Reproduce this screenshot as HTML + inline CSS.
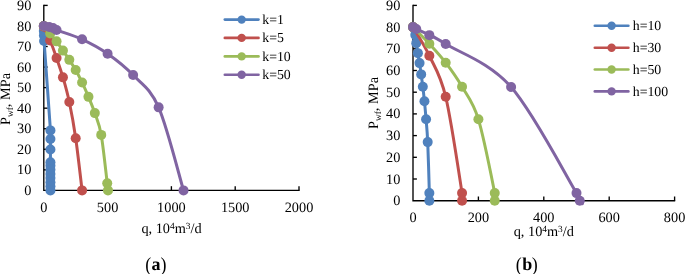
<!DOCTYPE html>
<html><head><meta charset="utf-8"><title>IPR curves</title>
<style>
html,body{margin:0;padding:0;background:#fff;}
body{width:685px;height:274px;overflow:hidden;}
svg{display:block;text-rendering:geometricPrecision;font-family:"Liberation Serif","Times New Roman",serif;fill:#000;}
</style></head><body>
<svg width="685" height="274" viewBox="0 0 685 274">
<rect width="685" height="274" fill="#fff"/>
<path d="M43.80,4.80 V190.40 H299.60" fill="none" stroke="#000" stroke-width="1.35"/>
<text x="31.40" y="194.95" text-anchor="end" font-size="14.3">0</text>
<path d="M43.80,169.84 h3.9" stroke="#000" stroke-width="1.35"/>
<text x="31.40" y="174.39" text-anchor="end" font-size="14.3">10</text>
<path d="M43.80,149.29 h3.9" stroke="#000" stroke-width="1.35"/>
<text x="31.40" y="153.84" text-anchor="end" font-size="14.3">20</text>
<path d="M43.80,128.73 h3.9" stroke="#000" stroke-width="1.35"/>
<text x="31.40" y="133.28" text-anchor="end" font-size="14.3">30</text>
<path d="M43.80,108.18 h3.9" stroke="#000" stroke-width="1.35"/>
<text x="31.40" y="112.73" text-anchor="end" font-size="14.3">40</text>
<path d="M43.80,87.62 h3.9" stroke="#000" stroke-width="1.35"/>
<text x="31.40" y="92.17" text-anchor="end" font-size="14.3">50</text>
<path d="M43.80,67.07 h3.9" stroke="#000" stroke-width="1.35"/>
<text x="31.40" y="71.62" text-anchor="end" font-size="14.3">60</text>
<path d="M43.80,46.51 h3.9" stroke="#000" stroke-width="1.35"/>
<text x="31.40" y="51.06" text-anchor="end" font-size="14.3">70</text>
<path d="M43.80,25.96 h3.9" stroke="#000" stroke-width="1.35"/>
<text x="31.40" y="30.51" text-anchor="end" font-size="14.3">80</text>
<path d="M43.80,5.40 h3.9" stroke="#000" stroke-width="1.35"/>
<text x="31.40" y="9.95" text-anchor="end" font-size="14.3">90</text>
<text x="43.80" y="211.50" text-anchor="middle" font-size="14.3">0</text>
<path d="M107.60,190.40 v-4.2" stroke="#000" stroke-width="1.35"/>
<text x="107.60" y="211.50" text-anchor="middle" font-size="14.3">500</text>
<path d="M171.40,190.40 v-4.2" stroke="#000" stroke-width="1.35"/>
<text x="171.40" y="211.50" text-anchor="middle" font-size="14.3">1000</text>
<path d="M235.20,190.40 v-4.2" stroke="#000" stroke-width="1.35"/>
<text x="235.20" y="211.50" text-anchor="middle" font-size="14.3">1500</text>
<path d="M299.00,190.40 v-4.2" stroke="#000" stroke-width="1.35"/>
<text x="299.00" y="211.50" text-anchor="middle" font-size="14.3">2000</text>
<text x="171.50" y="233.20" text-anchor="middle" font-size="14.3">q, 10<tspan font-size="9.4" dy="-4.3">4</tspan><tspan dy="4.3">m</tspan><tspan font-size="9.4" dy="-4.3">3</tspan><tspan dy="4.3">/d</tspan></text>
<text transform="translate(10.00,99.00) rotate(-90)" text-anchor="middle" font-size="14.3">P<tspan font-size="9.4" dy="2.6">wf</tspan><tspan dy="-2.6">, MPa</tspan></text>
<path d="M43.80,25.96 C43.80,26.81 43.78,29.52 43.80,31.09 C43.82,32.67 43.89,33.77 43.93,35.41 C43.97,37.06 42.97,25.13 44.06,40.96 C45.14,56.79 49.37,114.04 50.44,130.38 C51.50,146.72 50.44,135.83 50.44,139.01 C50.44,142.20 50.44,145.62 50.44,149.49 C50.44,153.37 50.44,159.53 50.44,162.24 C50.44,164.95 50.44,164.47 50.44,165.73 C50.44,167.00 50.44,168.47 50.44,169.84 C50.44,171.21 50.44,172.59 50.44,173.96 C50.44,175.33 50.44,176.70 50.44,178.07 C50.44,179.44 50.44,180.81 50.44,182.18 C50.44,183.55 50.44,184.92 50.44,186.29 C50.44,187.66 50.44,189.71 50.44,190.40" fill="none" stroke="#4F81BD" stroke-width="3.00" stroke-linejoin="round" stroke-linecap="round"/>
<circle cx="43.80" cy="25.96" r="5.00" fill="#4F81BD"/>
<circle cx="43.80" cy="31.09" r="5.00" fill="#4F81BD"/>
<circle cx="43.93" cy="35.41" r="5.00" fill="#4F81BD"/>
<circle cx="44.06" cy="40.96" r="5.00" fill="#4F81BD"/>
<circle cx="50.44" cy="130.38" r="5.00" fill="#4F81BD"/>
<circle cx="50.44" cy="139.01" r="5.00" fill="#4F81BD"/>
<circle cx="50.44" cy="149.49" r="5.00" fill="#4F81BD"/>
<circle cx="50.44" cy="162.24" r="5.00" fill="#4F81BD"/>
<circle cx="50.44" cy="165.73" r="5.00" fill="#4F81BD"/>
<circle cx="50.44" cy="169.84" r="5.00" fill="#4F81BD"/>
<circle cx="50.44" cy="173.96" r="5.00" fill="#4F81BD"/>
<circle cx="50.44" cy="178.07" r="5.00" fill="#4F81BD"/>
<circle cx="50.44" cy="182.18" r="5.00" fill="#4F81BD"/>
<circle cx="50.44" cy="186.29" r="5.00" fill="#4F81BD"/>
<circle cx="50.44" cy="190.40" r="5.00" fill="#4F81BD"/>
<path d="M43.80,25.96 C43.82,26.09 42.86,24.35 43.93,26.78 C44.99,29.21 48.07,35.34 50.18,40.55 C52.29,45.76 54.43,51.89 56.56,58.02 C58.69,64.15 60.81,70.01 62.94,77.34 C65.07,84.68 67.19,91.87 69.32,102.01 C71.45,112.15 73.57,123.46 75.70,138.19 C77.83,152.92 81.02,181.70 82.08,190.40" fill="none" stroke="#C0504D" stroke-width="3.00" stroke-linejoin="round" stroke-linecap="round"/>
<circle cx="43.80" cy="25.96" r="5.00" fill="#C0504D"/>
<circle cx="43.93" cy="26.78" r="5.00" fill="#C0504D"/>
<circle cx="50.18" cy="40.55" r="5.00" fill="#C0504D"/>
<circle cx="56.56" cy="58.02" r="5.00" fill="#C0504D"/>
<circle cx="62.94" cy="77.34" r="5.00" fill="#C0504D"/>
<circle cx="69.32" cy="102.01" r="5.00" fill="#C0504D"/>
<circle cx="75.70" cy="138.19" r="5.00" fill="#C0504D"/>
<circle cx="82.08" cy="190.40" r="5.00" fill="#C0504D"/>
<path d="M43.80,25.96 C44.86,27.22 48.05,30.99 50.18,33.56 C52.31,36.13 54.43,38.53 56.56,41.37 C58.69,44.22 60.81,47.54 62.94,50.62 C65.07,53.71 67.19,56.65 69.32,59.87 C71.45,63.09 73.57,66.18 75.70,69.94 C77.83,73.71 79.95,78.00 82.08,82.48 C84.21,86.97 86.33,91.77 88.46,96.87 C90.59,101.98 92.71,106.77 94.84,113.11 C96.97,119.45 99.16,123.22 101.22,134.90 C103.28,146.58 106.09,173.96 107.22,183.21 C108.34,192.46 107.86,189.20 107.98,190.40" fill="none" stroke="#9BBB59" stroke-width="3.00" stroke-linejoin="round" stroke-linecap="round"/>
<circle cx="43.80" cy="25.96" r="5.00" fill="#9BBB59"/>
<circle cx="50.18" cy="33.56" r="5.00" fill="#9BBB59"/>
<circle cx="56.56" cy="41.37" r="5.00" fill="#9BBB59"/>
<circle cx="62.94" cy="50.62" r="5.00" fill="#9BBB59"/>
<circle cx="69.32" cy="59.87" r="5.00" fill="#9BBB59"/>
<circle cx="75.70" cy="69.94" r="5.00" fill="#9BBB59"/>
<circle cx="82.08" cy="82.48" r="5.00" fill="#9BBB59"/>
<circle cx="88.46" cy="96.87" r="5.00" fill="#9BBB59"/>
<circle cx="94.84" cy="113.11" r="5.00" fill="#9BBB59"/>
<circle cx="101.22" cy="134.90" r="5.00" fill="#9BBB59"/>
<circle cx="107.22" cy="183.21" r="5.00" fill="#9BBB59"/>
<circle cx="107.98" cy="190.40" r="5.00" fill="#9BBB59"/>
<path d="M43.80,25.96 C44.69,26.13 47.63,26.64 49.16,26.98 C50.69,27.33 51.75,27.50 52.99,28.01 C54.22,28.53 51.71,28.18 56.56,30.07 C61.41,31.95 73.57,35.38 82.08,39.32 C90.59,43.26 99.09,47.74 107.60,53.71 C116.11,59.67 124.61,66.14 133.12,75.08 C141.63,84.03 150.24,88.14 158.64,107.36 C167.04,126.58 179.38,176.56 183.52,190.40" fill="none" stroke="#8064A2" stroke-width="3.00" stroke-linejoin="round" stroke-linecap="round"/>
<circle cx="43.80" cy="25.96" r="5.00" fill="#8064A2"/>
<circle cx="49.16" cy="26.98" r="5.00" fill="#8064A2"/>
<circle cx="52.99" cy="28.01" r="5.00" fill="#8064A2"/>
<circle cx="56.56" cy="30.07" r="5.00" fill="#8064A2"/>
<circle cx="82.08" cy="39.32" r="5.00" fill="#8064A2"/>
<circle cx="107.60" cy="53.71" r="5.00" fill="#8064A2"/>
<circle cx="133.12" cy="75.08" r="5.00" fill="#8064A2"/>
<circle cx="158.64" cy="107.36" r="5.00" fill="#8064A2"/>
<circle cx="183.52" cy="190.40" r="5.00" fill="#8064A2"/>
<path d="M224.80,19.60 H258.50" stroke="#4F81BD" stroke-width="2.6" stroke-linecap="round"/>
<circle cx="241.65" cy="19.60" r="4.2" fill="#4F81BD"/>
<text x="262.30" y="24.00" font-size="13.8">k=1</text>
<path d="M224.80,37.90 H258.50" stroke="#C0504D" stroke-width="2.6" stroke-linecap="round"/>
<circle cx="241.65" cy="37.90" r="4.2" fill="#C0504D"/>
<text x="262.30" y="42.30" font-size="13.8">k=5</text>
<path d="M224.80,56.40 H258.50" stroke="#9BBB59" stroke-width="2.6" stroke-linecap="round"/>
<circle cx="241.65" cy="56.40" r="4.2" fill="#9BBB59"/>
<text x="262.30" y="60.80" font-size="13.8">k=10</text>
<path d="M224.80,74.70 H258.50" stroke="#8064A2" stroke-width="2.6" stroke-linecap="round"/>
<circle cx="241.65" cy="74.70" r="4.2" fill="#8064A2"/>
<text x="262.30" y="79.10" font-size="13.8">k=50</text>
<text transform="translate(145.30,271.10) scale(1,1.1)" font-size="18">(</text>
<text x="151.40" y="269.90" font-size="18" font-weight="bold">a</text>
<text transform="translate(160.50,271.10) scale(1,1.1)" font-size="18">)</text>
<path d="M413.00,4.80 V200.70 H675.20" fill="none" stroke="#000" stroke-width="1.35"/>
<text x="400.40" y="205.25" text-anchor="end" font-size="14.3">0</text>
<path d="M413.00,179.00 h3.9" stroke="#000" stroke-width="1.35"/>
<text x="400.40" y="183.55" text-anchor="end" font-size="14.3">10</text>
<path d="M413.00,157.30 h3.9" stroke="#000" stroke-width="1.35"/>
<text x="400.40" y="161.85" text-anchor="end" font-size="14.3">20</text>
<path d="M413.00,135.60 h3.9" stroke="#000" stroke-width="1.35"/>
<text x="400.40" y="140.15" text-anchor="end" font-size="14.3">30</text>
<path d="M413.00,113.90 h3.9" stroke="#000" stroke-width="1.35"/>
<text x="400.40" y="118.45" text-anchor="end" font-size="14.3">40</text>
<path d="M413.00,92.20 h3.9" stroke="#000" stroke-width="1.35"/>
<text x="400.40" y="96.75" text-anchor="end" font-size="14.3">50</text>
<path d="M413.00,70.50 h3.9" stroke="#000" stroke-width="1.35"/>
<text x="400.40" y="75.05" text-anchor="end" font-size="14.3">60</text>
<path d="M413.00,48.80 h3.9" stroke="#000" stroke-width="1.35"/>
<text x="400.40" y="53.35" text-anchor="end" font-size="14.3">70</text>
<path d="M413.00,27.10 h3.9" stroke="#000" stroke-width="1.35"/>
<text x="400.40" y="31.65" text-anchor="end" font-size="14.3">80</text>
<path d="M413.00,5.40 h3.9" stroke="#000" stroke-width="1.35"/>
<text x="400.40" y="9.95" text-anchor="end" font-size="14.3">90</text>
<text x="413.00" y="221.70" text-anchor="middle" font-size="14.3">0</text>
<path d="M478.40,200.70 v-4.2" stroke="#000" stroke-width="1.35"/>
<text x="478.40" y="221.70" text-anchor="middle" font-size="14.3">200</text>
<path d="M543.80,200.70 v-4.2" stroke="#000" stroke-width="1.35"/>
<text x="543.80" y="221.70" text-anchor="middle" font-size="14.3">400</text>
<path d="M609.20,200.70 v-4.2" stroke="#000" stroke-width="1.35"/>
<text x="609.20" y="221.70" text-anchor="middle" font-size="14.3">600</text>
<path d="M674.60,200.70 v-4.2" stroke="#000" stroke-width="1.35"/>
<text x="674.60" y="221.70" text-anchor="middle" font-size="14.3">800</text>
<text x="543.80" y="236.10" text-anchor="middle" font-size="14.3">q, 10<tspan font-size="9.4" dy="-4.3">4</tspan><tspan dy="4.3">m</tspan><tspan font-size="9.4" dy="-4.3">3</tspan><tspan dy="4.3">/d</tspan></text>
<text transform="translate(378.30,103.00) rotate(-90)" text-anchor="middle" font-size="14.3">P<tspan font-size="9.4" dy="2.6">wf</tspan><tspan dy="-2.6">, MPa</tspan></text>
<path d="M413.00,27.10 C413.38,28.40 414.74,32.24 415.29,34.91 C415.83,37.59 415.83,40.12 416.27,43.16 C416.71,46.20 417.36,49.81 417.90,53.14 C418.45,56.47 419.00,59.58 419.54,63.12 C420.09,66.67 420.63,70.46 421.18,74.41 C421.72,78.35 422.26,82.29 422.81,86.77 C423.36,91.26 423.90,95.89 424.44,101.31 C424.99,106.74 425.53,112.53 426.08,119.32 C426.62,126.12 427.17,129.81 427.71,142.11 C428.26,154.41 429.08,183.34 429.35,193.10 C429.62,202.87 429.35,199.43 429.35,200.70" fill="none" stroke="#4F81BD" stroke-width="3.00" stroke-linejoin="round" stroke-linecap="round"/>
<circle cx="413.00" cy="27.10" r="5.00" fill="#4F81BD"/>
<circle cx="415.29" cy="34.91" r="5.00" fill="#4F81BD"/>
<circle cx="416.27" cy="43.16" r="5.00" fill="#4F81BD"/>
<circle cx="417.90" cy="53.14" r="5.00" fill="#4F81BD"/>
<circle cx="419.54" cy="63.12" r="5.00" fill="#4F81BD"/>
<circle cx="421.18" cy="74.41" r="5.00" fill="#4F81BD"/>
<circle cx="422.81" cy="86.77" r="5.00" fill="#4F81BD"/>
<circle cx="424.44" cy="101.31" r="5.00" fill="#4F81BD"/>
<circle cx="426.08" cy="119.32" r="5.00" fill="#4F81BD"/>
<circle cx="427.71" cy="142.11" r="5.00" fill="#4F81BD"/>
<circle cx="429.35" cy="193.10" r="5.00" fill="#4F81BD"/>
<circle cx="429.35" cy="200.70" r="5.00" fill="#4F81BD"/>
<path d="M413.00,27.10 C415.73,31.87 423.90,44.13 429.35,55.74 C434.80,67.35 440.25,73.86 445.70,96.76 C451.15,119.65 459.32,175.78 462.05,193.10 C464.78,210.43 462.05,199.43 462.05,200.70" fill="none" stroke="#C0504D" stroke-width="3.00" stroke-linejoin="round" stroke-linecap="round"/>
<circle cx="413.00" cy="27.10" r="5.00" fill="#C0504D"/>
<circle cx="429.35" cy="55.74" r="5.00" fill="#C0504D"/>
<circle cx="445.70" cy="96.76" r="5.00" fill="#C0504D"/>
<circle cx="462.05" cy="193.10" r="5.00" fill="#C0504D"/>
<circle cx="462.05" cy="200.70" r="5.00" fill="#C0504D"/>
<path d="M413.00,27.10 C415.73,29.88 423.90,37.88 429.35,43.81 C434.80,49.74 440.25,55.53 445.70,62.69 C451.15,69.85 456.60,77.34 462.05,86.77 C467.50,96.21 472.95,101.60 478.40,119.32 C483.85,137.05 492.02,179.54 494.75,193.10 C497.48,206.67 494.75,199.43 494.75,200.70" fill="none" stroke="#9BBB59" stroke-width="3.00" stroke-linejoin="round" stroke-linecap="round"/>
<circle cx="413.00" cy="27.10" r="5.00" fill="#9BBB59"/>
<circle cx="429.35" cy="43.81" r="5.00" fill="#9BBB59"/>
<circle cx="445.70" cy="62.69" r="5.00" fill="#9BBB59"/>
<circle cx="462.05" cy="86.77" r="5.00" fill="#9BBB59"/>
<circle cx="478.40" cy="119.32" r="5.00" fill="#9BBB59"/>
<circle cx="494.75" cy="193.10" r="5.00" fill="#9BBB59"/>
<circle cx="494.75" cy="200.70" r="5.00" fill="#9BBB59"/>
<path d="M413.00,27.10 C413.55,27.43 413.54,27.71 416.27,29.05 C419.00,30.39 424.45,32.63 429.35,35.13 C434.25,37.62 432.07,35.38 445.70,44.03 C459.32,52.67 489.30,62.15 511.10,86.99 C532.90,111.84 565.06,174.15 576.50,193.10 C587.94,212.06 579.23,199.43 579.77,200.70" fill="none" stroke="#8064A2" stroke-width="3.00" stroke-linejoin="round" stroke-linecap="round"/>
<circle cx="413.00" cy="27.10" r="5.00" fill="#8064A2"/>
<circle cx="416.27" cy="29.05" r="5.00" fill="#8064A2"/>
<circle cx="429.35" cy="35.13" r="5.00" fill="#8064A2"/>
<circle cx="445.70" cy="44.03" r="5.00" fill="#8064A2"/>
<circle cx="511.10" cy="86.99" r="5.00" fill="#8064A2"/>
<circle cx="576.50" cy="193.10" r="5.00" fill="#8064A2"/>
<circle cx="579.77" cy="200.70" r="5.00" fill="#8064A2"/>
<path d="M594.80,25.80 H628.40" stroke="#4F81BD" stroke-width="2.6" stroke-linecap="round"/>
<circle cx="611.60" cy="25.80" r="4.2" fill="#4F81BD"/>
<text x="632.80" y="30.20" font-size="13.8">h=10</text>
<path d="M594.80,47.70 H628.40" stroke="#C0504D" stroke-width="2.6" stroke-linecap="round"/>
<circle cx="611.60" cy="47.70" r="4.2" fill="#C0504D"/>
<text x="632.80" y="52.10" font-size="13.8">h=30</text>
<path d="M594.80,69.50 H628.40" stroke="#9BBB59" stroke-width="2.6" stroke-linecap="round"/>
<circle cx="611.60" cy="69.50" r="4.2" fill="#9BBB59"/>
<text x="632.80" y="73.90" font-size="13.8">h=50</text>
<path d="M594.80,91.40 H628.40" stroke="#8064A2" stroke-width="2.6" stroke-linecap="round"/>
<circle cx="611.60" cy="91.40" r="4.2" fill="#8064A2"/>
<text x="632.80" y="95.80" font-size="13.8">h=100</text>
<text transform="translate(515.70,271.40) scale(1,1.1)" font-size="18">(</text>
<text x="522.30" y="270.20" font-size="18" font-weight="bold">b</text>
<text transform="translate(531.80,271.40) scale(1,1.1)" font-size="18">)</text>
</svg>
</body></html>
